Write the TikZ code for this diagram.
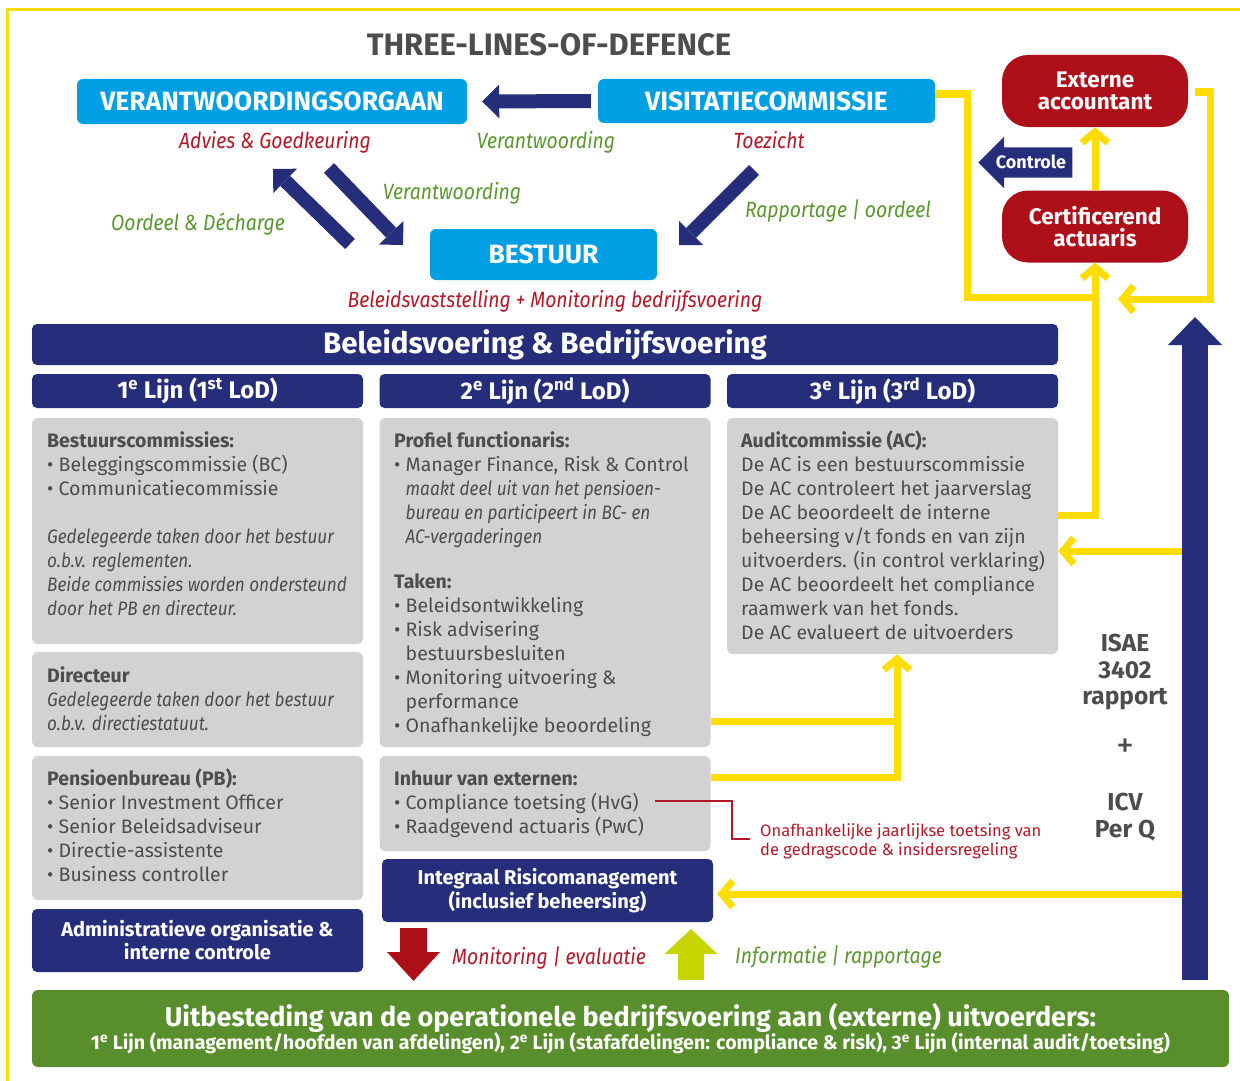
\documentclass[tikz,border=0pt]{standalone}
\usepackage{fontspec}
\setmainfont{Fira Sans}[ItalicFeatures={FakeStretch=0.88}]
\usepackage{xcolor}
\usetikzlibrary{arrows.meta, shapes.arrows}

\definecolor{cyaan}{RGB}{0,159,227}
\definecolor{navy}{RGB}{38,46,124}
\definecolor{bordeaux}{RGB}{174,16,26}
\definecolor{roodtekst}{RGB}{178,24,40}
\definecolor{groentekst}{RGB}{92,150,48}
\definecolor{groenvlak}{RGB}{88,142,44}
\definecolor{geel}{RGB}{255,221,0}
\definecolor{limoen}{RGB}{200,212,0}
\definecolor{grijsvlak}{RGB}{210,210,210}
\definecolor{tekstgrijs}{RGB}{77,77,77}

\newcommand{\tekst}{\fontsize{19.5}{24}\selectfont}
\newcommand{\bol}{\textbullet\ }
\newcommand{\inspring}{\phantom{\textbullet\ }}

\tikzset{
  blauwbox/.style={fill=cyaan, rounded corners=6pt, text=white, font=\bfseries\fontsize{26.5}{26.5}\selectfont, inner sep=0pt},
  rodebox/.style={fill=bordeaux, rounded corners=26pt, text=white, align=center, font=\bfseries\fontsize{22.5}{21.5}\selectfont, minimum width=186pt, minimum height=72pt, inner sep=0pt},
  navybox/.style={fill=navy, rounded corners=5pt, text=white, align=center, inner sep=0pt},
  grijsbox/.style={fill=grijsvlak, rounded corners=6pt, minimum width=331pt, inner sep=0pt},
  inhoud/.style={anchor=base west, inner sep=0pt, align=left, text=tekstgrijs, font=\tekst},
  rodelabel/.style={text=roodtekst, font=\itshape\fontsize{22}{22}\selectfont, inner sep=0pt, anchor=base},
  groenelabel/.style={text=groentekst, font=\itshape\fontsize{22}{22}\selectfont, inner sep=0pt, anchor=base},
  blokpijl/.style={navy, line width=14pt, -{Triangle[length=17pt, width=34pt, line width=0pt]}},
  geellijn/.style={geel, line width=7pt},
  geelpijl/.style={geellijn, -{Straight Barb[length=11pt, width=26pt]}},
}

\begin{document}
\begin{tikzpicture}[x=1pt, y=-1pt]
  \useasboundingbox (0,0) rectangle (1240,1081);
  % Kader
  \draw[geel, line width=3pt] (1240,10) -- (7,10) -- (7,1081);

  % Titel
  \node[text=tekstgrijs, font=\bfseries\fontsize{31}{31}\selectfont, anchor=base, inner sep=0pt] (titel) at (549,56) {THREE-LINES-OF-DEFENCE};

  % Organen
  \node[blauwbox, minimum width=390pt, minimum height=45pt] (vo) at (272,101.5) {VERANTWOORDINGSORGAAN};
  \node[blauwbox, minimum width=337pt, minimum height=44pt] (vc) at (766.5,101) {VISITATIECOMMISSIE};
  \node[blauwbox, minimum width=227pt, minimum height=51pt] (bestuur) at (543.5,254.5) {BESTUUR};

  \node[rodelabel] (advies) at (275,148) {Advies \& Goedkeuring};
  \node[groenelabel] (verantw1) at (546,148) {Verantwoording};
  \node[rodelabel] (toezicht) at (769,148) {Toezicht};
  \node[groenelabel] (verantw2) at (452,199) {Verantwoording};
  \node[groenelabel] (oordeel) at (198,230) {Oordeel \& Décharge};
  \node[groenelabel] (rapportage) at (838,217) {Rapportage | oordeel};
  \node[rodelabel] (beleid) at (555,307) {Beleidsvaststelling + Monitoring bedrijfsvoering};

  % Blauwe pijlen
  \draw[blokpijl] ([xshift=-7pt]vc.west) -- ([xshift=15pt]vo.east);
  \coordinate (d1a) at (350,244); \coordinate (d1b) at (273,169);
  \coordinate (d2a) at (329,168); \coordinate (d2b) at (403,245);
  \coordinate (d3a) at (754,170); \coordinate (d3b) at (679,245);
  \foreach \van/\naar in {d1a/d1b, d2a/d2b, d3a/d3b}
    \draw[blokpijl] (\van) -- (\naar);

  % Externe partijen
  \node[rodebox] (ext) at (1095,91) {Externe\\accountant};
  \node[rodebox] (cert) at (1095,226.5) {Certificerend\\actuaris};
  \node[single arrow, shape border rotate=180, fill=navy, minimum height=94pt,
        single arrow head extend=10.5pt, single arrow head indent=0pt, inner sep=15pt] (controlepijl) at (1033,162.5) {};
  \node[text=white, font=\bfseries\fontsize{18}{18}\selectfont, inner sep=0pt] (controle) at (1031,162) {Controle};

  % Kolommen
  \node[navybox, minimum width=1026pt, minimum height=41pt, font=\bfseries\fontsize{29.5}{29.5}\selectfont] (bbv) at (545,344.5) {Beleidsvoering \& Bedrijfsvoering};
  \foreach \n/\x/\s in {1/197.5/st, 2/545/nd, 3/892.5/rd}
    \node[navybox, minimum width=331pt, minimum height=34pt, font=\bfseries\fontsize{24}{24}\selectfont] (lijn\n) at (\x,391) {\n\textsuperscript{e} Lijn (\n\textsuperscript{\s} LoD)};

  \node[grijsbox, minimum height=226pt] (bc) at (197.5,531) {};
  \node[grijsbox, minimum height=95pt] (dir) at (197.5,699.5) {};
  \node[grijsbox, minimum height=144pt] (pb) at (197.5,828) {};
  \node[grijsbox, minimum height=329pt] (prof) at (545,582.5) {};
  \node[grijsbox, minimum height=95pt] (inh) at (545,803.5) {};
  \node[grijsbox, minimum height=236pt] (ac) at (892.5,536) {};

  % tekst: anker op de basislijn van de laatste regel
  \node[inhoud] (bctekst) at (47,615) {\textbf{Bestuurscommissies:}\\
    \bol Beleggingscommissie (BC)\\
    \bol Communicatiecommissie\\[24pt]
    \textit{Gedelegeerde taken door het bestuur}\\
    \textit{o.b.v. reglementen.}\\
    \textit{Beide commissies worden ondersteund}\\
    \textit{door het PB en directeur.}};
  \node[inhoud] (dirtekst) at (47,730) {\textbf{Directeur}\\
    \textit{Gedelegeerde taken door het bestuur}\\
    \textit{o.b.v. directiestatuut.}};
  \node[inhoud] (pbtekst) at (47,881) {\textbf{Pensioenbureau (PB):}\\
    \bol Senior Investment Officer\\
    \bol Senior Beleidsadviseur\\
    \bol Directie-assistente\\
    \bol Business controller};
  \node[inhoud] (proftekst) at (394,732) {\textbf{Profiel functionaris:}\\
    \bol Manager Finance, Risk \& Control\\
    \inspring\textit{maakt deel uit van het pensioen-}\\
    \inspring\textit{bureau en participeert in BC- en}\\
    \inspring\textit{AC-vergaderingen}\\[21pt]
    \textbf{Taken:}\\
    \bol Beleidsontwikkeling\\
    \bol Risk advisering\\
    \inspring bestuursbesluiten\\
    \bol Monitoring uitvoering \&\\
    \inspring performance\\
    \bol Onafhankelijke beoordeling};
  \node[inhoud] (inhtekst) at (394,833) {\textbf{Inhuur van externen:}\\
    \bol Compliance toetsing (HvG)\\
    \bol Raadgevend actuaris (PwC)};
  \node[inhoud] (actekst) at (741,639) {\textbf{Auditcommissie (AC):}\\
    De AC is een bestuurscommissie\\
    De AC controleert het jaarverslag\\
    De AC beoordeelt de interne\\
    beheersing v/t fonds en van zijn\\
    uitvoerders. (in control verklaring)\\
    De AC beoordeelt het compliance\\
    raamwerk van het fonds.\\
    De AC evalueert de uitvoerders};

  \node[navybox, minimum width=331pt, minimum height=63pt, font=\bfseries\fontsize{20}{23}\selectfont] (ao) at (197.5,940.5) {Administratieve organisatie \&\\interne controle};
  \node[navybox, minimum width=331pt, minimum height=63pt, font=\bfseries\fontsize{20}{24}\selectfont] (irm) at (547.5,890.5) {Integraal Risicomanagement\\(inclusief beheersing)};

  % Toetsing gedragscode
  \coordinate (hvg) at (655,801);
  \node[anchor=west, text=roodtekst, font=\fontsize{16.5}{19}\selectfont, align=left, inner sep=0pt] (toetsing) at (760,841) {Onafhankelijke jaarlijkse toetsing van\\de gedragscode \& insidersregeling};
  \draw[roodtekst, line width=2pt] (hvg) -| ([xshift=-28pt, yshift=2pt]toetsing.west) -- ([xshift=-10pt, yshift=2pt]toetsing.west);

  % ISAE-pijl
  \coordinate (isaevoet) at (1195,980);
  \coordinate (isaetop) at (1195,317);
  \node[text=tekstgrijs, font=\bfseries\fontsize{24.5}{26.5}\selectfont, align=center, anchor=base, inner sep=0pt] (isae) at (1125,837) {ISAE\\3402\\rapport\\[26.5pt]{\mdseries\fontsize{36}{26.5}\selectfont +}\\[26.5pt]ICV\\Per Q};

  % Gele lijnen
  \draw[geelpijl] (cert.north) -- (ext.south);
  \draw[geelpijl] ([yshift=21pt]ac.east) -| (cert.south);
  \coordinate (samen) at (1095,297);
  \draw[geellijn] ([yshift=7pt]vc.east) -- ++(32,0) |- (samen);
  \coordinate (certpijl) at (1118,299);
  \draw[geelpijl] ([xshift=7pt, yshift=-1pt]ext.east) -- ++(15,0) |- (certpijl);
  \coordinate (s1) at (1182,551);
  \coordinate (s2) at (1182,894);
  \draw[geelpijl] (s1) -- (s1 -| ac.east);
  \draw[geelpijl] (s2) -- ([xshift=4pt]s2 -| irm.east);
  \coordinate (m1) at (897,721);
  \coordinate (m2) at (897,777);
  \draw[geellijn] (m1 -| prof.east) -- (m1);
  \draw[geelpijl] (m2 -| inh.east) -- (m2) -- (m2 |- ac.south);

  \draw[navy, line width=26pt, -{Triangle[length=28pt, width=54pt, line width=0pt]}] (isaevoet) -- (isaetop);

  % Monitoring en informatie
  \coordinate (mon1) at (413.5,928); \coordinate (mon2) at (413.5,981);
  \coordinate (inf1) at (691,980); \coordinate (inf2) at (691,929);
  \draw[bordeaux, line width=27pt, -{Triangle[length=29pt, width=53pt, line width=0pt]}] (mon1) -- (mon2);
  \draw[limoen, line width=26pt, -{Triangle[length=25pt, width=53pt, line width=0pt]}] (inf1) -- (inf2);
  \node[rodelabel, anchor=base west] (monitoring) at (452,964) {Monitoring | evaluatie};
  \node[groenelabel, anchor=base west] (informatie) at (735,963) {Informatie | rapportage};

  % Uitbesteding
  \node[fill=groenvlak, rounded corners=6pt, minimum width=1197pt, minimum height=77pt, text=white, align=center, inner sep=0pt, font=\bfseries] (uit) at (630.5,1028.5)
    {{\fontsize{27}{27}\selectfont Uitbesteding van de operationele bedrijfsvoering aan (externe) uitvoerders:}\\
     {\fontsize{19.6}{25}\selectfont 1\textsuperscript{e} Lijn (management/hoofden van afdelingen), 2\textsuperscript{e} Lijn (stafafdelingen: compliance \& risk), 3\textsuperscript{e} Lijn (internal audit/toetsing)}};
\end{tikzpicture}
\end{document}
